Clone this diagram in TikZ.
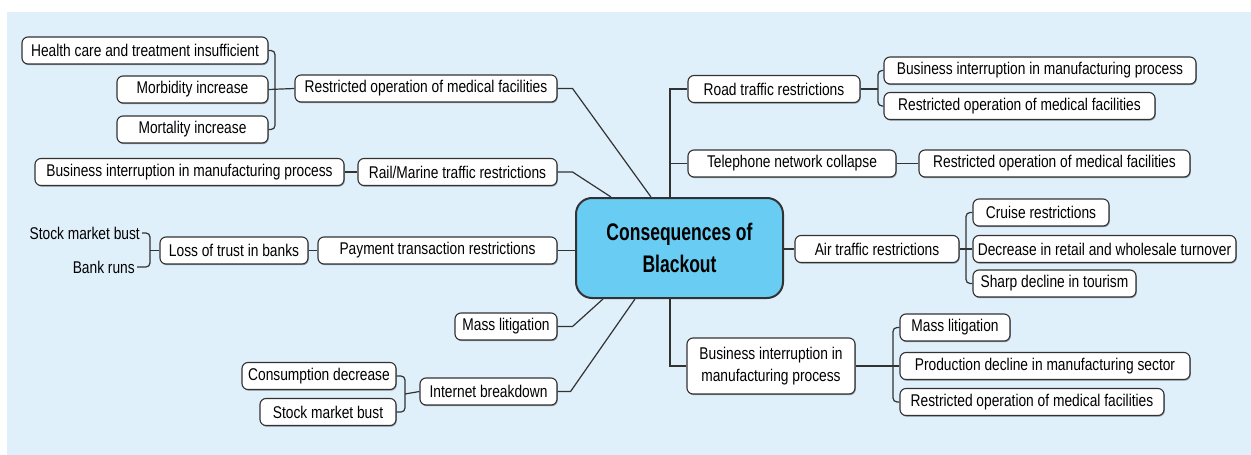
\documentclass[tikz,border=0pt]{standalone}
\usepackage{fontspec}
\setmainfont{Liberation Sans}[FakeStretch=0.81]
\newfontfamily\titlefont{Liberation Sans}[FakeStretch=0.73]
\usetikzlibrary{shadows,calc}
\definecolor{bgblue}{RGB}{223,240,251}
\definecolor{coreblue}{RGB}{105,205,243}
\definecolor{linegray}{RGB}{50,50,50}
\begin{document}
\begin{tikzpicture}[x=1pt,y=-1pt,
 box/.style={draw=linegray, line width=1.1pt, rounded corners=6pt, fill=white,
   minimum height=27pt, inner sep=0pt, font=\fontsize{17}{19}\selectfont,
   drop shadow={shadow xshift=0.8pt, shadow yshift=-1.2pt, opacity=0.35, fill=black}},
 link/.style={draw=linegray, line width=1.2pt},
 brace/.style={link, rounded corners=4pt},
 plain/.style={inner sep=2pt, font=\fontsize{17}{19}\selectfont}]
\useasboundingbox (0,0) rectangle (1251,455);
\fill[bgblue] (7,12) rectangle (1251,455);

% centre
\node[draw=linegray, line width=2pt, rounded corners=16pt, fill=coreblue,
  minimum width=207pt, minimum height=100pt, align=center,
  font={\titlefont\bfseries\fontsize{24}{32}\selectfont}] (c) at (679.5,248) {Consequences of\\Blackout};

% left side
\node[box, minimum width=246pt] (h1) at (145,50.5) {Health care and treatment insufficient};
\node[box, minimum width=151pt] (h2) at (192.5,89.5) {Morbidity increase};
\node[box, minimum width=151pt] (h3) at (192.5,129.5) {Mortality increase};
\node[box, minimum width=262pt] (med) at (426,88.5) {Restricted operation of medical facilities};
\node[box, minimum width=309pt] (bL) at (189.5,172) {Business interruption in manufacturing process};
\node[box, minimum width=199pt] (rail) at (457.5,172) {Rail/Marine traffic restrictions};
\node[plain, anchor=east] (sm1) at (142,233) {Stock market bust};
\node[plain, anchor=east] (br) at (137,267) {Bank runs};
\node[box, minimum width=148pt] (loss) at (234,250.5) {Loss of trust in banks};
\node[box, minimum width=239pt] (pay) at (437.5,250.5) {Payment transaction restrictions};
\node[box, minimum width=102pt] (massL) at (506,326.5) {Mass litigation};
\node[box, minimum width=137pt] (inet) at (488.5,391.5) {Internet breakdown};
\node[box, minimum width=154pt] (cons) at (319,376) {Consumption decrease};
\node[box, minimum width=136pt] (sm2) at (328,412) {Stock market bust};

% right side
\node[box, minimum width=172pt] (road) at (774,89) {Road traffic restrictions};
\node[box, minimum width=312pt] (rb1) at (1040,70.5) {Business interruption in manufacturing process};
\node[box, minimum width=271pt] (rb2) at (1019.5,106) {Restricted operation of medical facilities};
\node[box, minimum width=208pt] (tel) at (792,163.5) {Telephone network collapse};
\node[box, minimum width=271pt] (tel1) at (1054.5,163.5) {Restricted operation of medical facilities};
\node[box, minimum width=164pt] (air) at (877,249) {Air traffic restrictions};
\node[box, minimum width=136pt] (cruise) at (1041,212.5) {Cruise restrictions};
\node[box, minimum width=263pt] (retail) at (1104.5,249) {Decrease in retail and wholesale turnover};
\node[box, minimum width=163pt] (tour) at (1054.5,283.5) {Sharp decline in tourism};
\node[box, minimum width=168pt, minimum height=56pt, align=center,
  font=\fontsize{17}{22}\selectfont] (biz) at (771,366) {Business interruption in\\manufacturing process};
\node[box, minimum width=110pt] (ml) at (955,327.5) {Mass litigation};
\node[box, minimum width=290pt] (prod) at (1045,366) {Production decline in manufacturing sector};
\node[box, minimum width=264pt] (rb3) at (1032,402) {Restricted operation of medical facilities};

% connectors to centre
\draw[link] (med.east) -- ++(15,0) -- ([xshift=76pt]c.north west);
\draw[link] (rail.east) -- ++(15,0) -- ([xshift=36pt]c.north west);
\draw[link] (pay.east) -- (pay.east -| c.west);
\draw[link] (massL.east) -- ++(15,0) -- ([xshift=28pt]c.south west);
\draw[link] (inet.east) -- ++(13,0) -- ([xshift=60pt]c.south west);
\coordinate (spT) at ([xshift=95pt]c.north west);
\coordinate (spB) at ([xshift=95pt]c.south west);
\draw[link] (spT) |- (road.west);
\draw[link] (tel.west) -- (tel.west -| spT);
\draw[link] (c.east |- air.west) -- (air.west);
\draw[link] (spB) |- (biz.west);

% right brackets
\coordinate (bR1) at (878,89);
\draw[link] (road.east) -- (bR1);
\draw[brace] (rb1.west) -- (rb1.west -| bR1) -- (rb2.west -| bR1) -- (rb2.west);
\draw[link] (tel.east) -- (tel1.west);
\coordinate (bR2) at (966,249);
\draw[link] (air.east) -- (retail.west);
\draw[brace] (cruise.west) -- (cruise.west -| bR2) -- (tour.west -| bR2) -- (tour.west);
\coordinate (bR3) at (893,366);
\draw[link] (biz.east) -- (prod.west);
\draw[brace] (ml.west) -- (ml.west -| bR3) -- (rb3.west -| bR3) -- (rb3.west);

% left brackets
\coordinate (bL1) at (275,89);
\draw[link] (h2.east) -- (med.west);
\draw[brace] (h1.east) -- (h1.east -| bL1) -- (h3.east -| bL1) -- (h3.east);
\draw[link] (bL.east) -- (rail.west);
\coordinate (bL2) at (150,250.5);
\draw[link] (bL2) -- (loss.west);
\draw[link] (loss.east) -- (pay.west);
\draw[brace] (sm1.east) -- (sm1.east -| bL2) -- (br.east -| bL2) -- (br.east);
\coordinate (bL3) at (405,394);
\draw[link] (bL3) -- (inet.west);
\draw[brace] (cons.east) -- (cons.east -| bL3) -- (sm2.east -| bL3) -- (sm2.east);
\end{tikzpicture}
\end{document}
